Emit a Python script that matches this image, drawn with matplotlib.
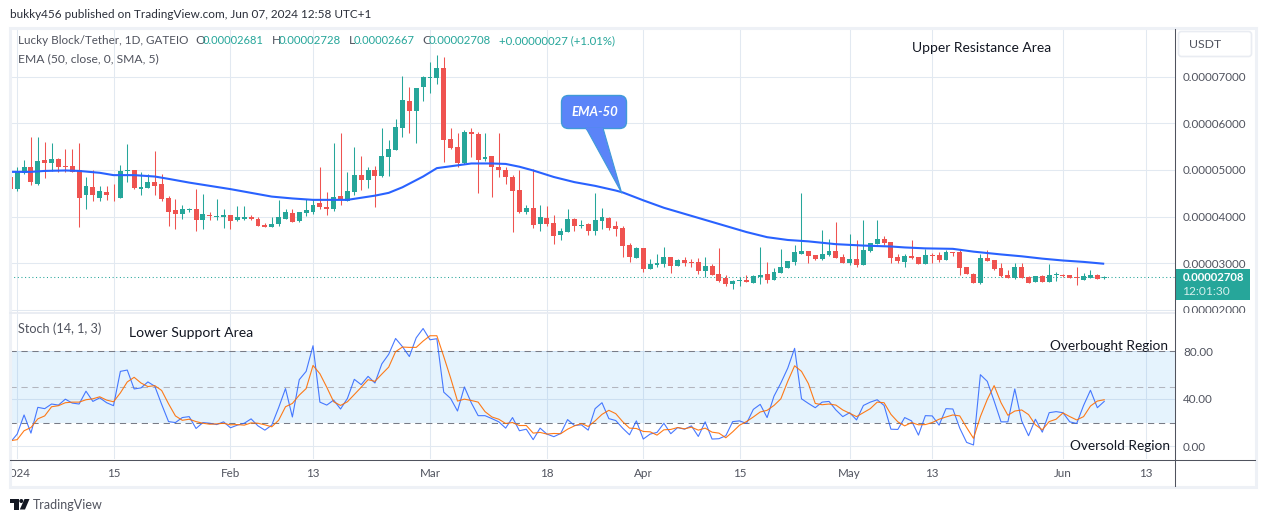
import numpy as np
import matplotlib
matplotlib.use("Agg")
import matplotlib.pyplot as plt
from matplotlib.patches import Rectangle, FancyBboxPatch, Polygon, Circle
from matplotlib.transforms import Bbox

# ---- data (prices in units of 0.00001 USDT; x = candle number, 0 = 31 Dec 2023)
opens = [4.85,4.59,4.93,5.06,4.71,5.21,5.14,5.23,5.08,5.08,4.99,4.46,4.63,4.41,4.52,4.41,4.41,4.97,4.99,4.59,
         4.61,4.74,4.69,4.39,4.14,4.05,4.14,4.16,3.92,4.03,3.99,3.99,4.03,3.92,3.96,3.99,3.96,3.83,3.77,3.84,
         3.96,4.07,3.90,4.07,4.11,4.29,4.21,4.17,4.45,4.34,4.53,4.90,4.79,5.01,4.88,5.27,5.42,5.89,6.47,6.26,
         6.77,6.97,6.97,7.18,5.67,5.50,5.14,5.82,5.78,5.24,5.29,5.07,5.01,4.86,4.58,4.10,4.19,3.85,3.98,3.87,
         3.61,3.67,3.95,3.80,3.85,3.70,3.91,3.98,3.80,3.76,3.39,3.11,3.33,2.88,2.96,2.99,3.14,2.94,3.07,3.03,
         3.03,2.84,2.94,2.77,2.68,2.56,2.62,2.64,2.58,2.71,2.77,2.64,2.79,2.90,3.03,3.20,3.27,3.18,3.09,3.18,
         3.27,3.14,3.01,3.09,2.96,3.27,3.42,3.52,3.46,3.14,3.03,3.15,3.14,2.99,3.18,3.18,3.07,3.24,3.24,2.92,
         2.77,2.58,3.11,3.07,2.90,2.75,2.68,2.92,2.71,2.60,2.73,2.60,2.75,2.75,2.75,2.71,2.64,2.68,2.75,2.681]
highs = [4.91,5.06,5.21,5.70,5.70,5.59,5.57,5.25,5.46,5.46,5.57,4.86,5.01,4.65,4.65,4.69,5.10,5.55,5.01,4.95,
         4.91,5.40,4.91,4.44,4.37,4.24,4.19,4.59,4.48,4.09,4.37,4.16,4.03,4.22,4.22,4.03,3.99,3.86,3.99,4.35,
         4.16,4.16,4.09,4.37,4.37,5.06,4.53,5.57,5.80,4.96,5.50,5.31,5.07,5.08,5.91,5.65,6.10,7.01,6.77,6.75,
         7.01,7.31,7.46,7.42,5.91,5.80,5.85,5.91,5.82,5.80,5.31,5.80,5.07,4.90,4.99,4.25,5.03,4.25,4.23,4.04,
         3.76,4.17,3.98,3.93,3.87,4.51,4.19,4.00,3.91,3.80,3.44,3.35,3.33,3.09,3.20,3.35,3.14,3.09,3.14,3.09,
         3.11,3.14,2.99,3.33,2.75,2.64,2.71,2.75,2.75,3.35,3.03,2.90,3.31,3.05,3.39,4.51,3.27,3.18,3.72,3.52,
         3.89,3.20,3.63,3.50,3.93,3.44,3.93,3.59,3.46,3.20,3.20,3.50,3.14,3.31,3.22,3.24,3.29,3.24,3.29,2.92,
         2.79,3.20,3.29,3.07,3.01,2.86,3.01,3.01,2.73,2.73,2.75,2.99,2.81,2.77,2.75,2.92,2.79,2.86,2.77,2.728]
lows = [4.56,4.56,4.91,4.67,4.67,4.82,4.97,4.95,4.95,4.95,3.77,4.16,4.33,4.33,4.35,4.33,4.39,4.74,4.59,4.46,
        4.61,4.46,4.33,3.81,3.73,3.94,4.11,3.69,3.73,3.92,3.92,3.75,3.73,3.90,3.92,3.92,3.81,3.77,3.77,3.81,
        3.96,3.88,3.88,4.01,4.05,4.16,4.04,4.13,4.25,4.34,4.47,4.58,4.62,4.21,4.86,4.88,5.42,5.70,5.80,5.57,
        6.47,6.64,6.84,5.18,5.44,5.07,5.12,5.27,4.51,5.20,4.43,4.86,4.71,3.67,4.08,4.06,3.76,3.70,3.80,3.42,
        3.50,3.67,3.70,3.76,3.61,3.61,3.74,3.72,3.59,3.14,3.03,3.11,2.81,2.88,2.92,2.92,2.79,2.94,2.94,2.92,
        2.77,2.71,2.75,2.60,2.51,2.45,2.51,2.60,2.58,2.56,2.58,2.64,2.79,2.90,2.96,3.20,3.01,3.07,3.07,3.16,
        3.11,3.01,2.96,2.92,2.96,3.24,3.42,3.39,3.01,3.01,2.92,3.09,2.99,2.99,3.01,3.03,3.07,3.16,2.75,2.77,
        2.58,2.56,3.05,2.86,2.71,2.68,2.66,2.68,2.58,2.60,2.60,2.60,2.62,2.71,2.68,2.53,2.64,2.68,2.66,2.667]
closes = [4.59,4.97,5.06,4.74,5.19,5.14,5.23,5.06,5.06,4.95,4.41,4.65,4.46,4.54,4.46,4.39,4.97,4.99,4.61,4.63,
          4.74,4.65,4.37,4.11,4.05,4.16,4.16,3.92,4.05,4.01,4.01,4.03,3.90,3.99,3.99,3.96,3.81,3.77,3.84,3.99,
          4.11,3.88,4.09,4.14,4.26,4.20,4.17,4.43,4.36,4.56,4.90,4.79,4.99,4.88,5.29,5.44,5.93,6.51,6.26,6.75,
          6.99,6.99,7.18,5.65,5.48,5.14,5.82,5.78,5.22,5.27,5.07,4.99,4.84,4.56,4.10,4.19,3.82,4.00,3.85,3.59,
          3.70,3.95,3.80,3.82,3.70,3.93,4.00,3.76,3.74,3.37,3.14,3.33,2.88,2.99,3.01,3.14,2.94,3.07,3.01,3.01,
          2.84,2.94,2.75,2.62,2.56,2.62,2.64,2.60,2.73,2.75,2.64,2.81,2.92,3.05,3.24,3.27,3.16,3.09,3.20,3.27,
          3.11,3.01,3.09,2.96,3.29,3.44,3.52,3.44,3.11,3.05,3.16,3.11,2.99,3.18,3.16,3.07,3.24,3.22,2.90,2.77,
          2.58,3.11,3.05,2.88,2.73,2.68,2.92,2.68,2.58,2.73,2.60,2.75,2.77,2.73,2.68,2.68,2.73,2.75,2.66,2.708]

ema_x = [0,3,5,8,10,13,15,18,21,23,26,29,32,35,38,41,44,49,53,55,57,60,62,64,67,70,72,74,76,79,82,85,88,89,92,95,98,
         101,104,107,110,113,116,120,124,128,130,133,137,140,144,147,150,153,156,159]
ema = [4.96,4.96,4.98,4.99,4.98,4.94,4.89,4.89,4.86,4.81,4.73,4.66,4.59,4.51,4.43,4.39,4.36,4.36,4.45,4.51,4.63,4.86,5.04,
       5.08,5.14,5.14,5.13,5.07,4.99,4.85,4.74,4.66,4.56,4.52,4.35,4.19,4.06,3.93,3.80,3.67,3.56,3.50,3.47,3.41,3.38,3.36,
       3.34,3.32,3.31,3.25,3.19,3.15,3.10,3.06,3.03,2.99]

stoch_k = [3.3,10.3,26.4,11.1,32.8,31.7,35.6,34.7,39.7,36.4,35.6,46.4,37.8,40.8,36.7,34.2,63.1,64.2,48.3,49.2,
           54.2,50.6,35.3,20.8,20.0,24.2,25.0,15.0,20.0,19.4,18.3,20.6,15.6,17.8,19.4,23.1,17.2,13.6,17.8,32.5,
           48.6,24.7,56.1,63.1,84.7,37.2,34.7,38.9,31.4,40.3,56.4,51.9,58.9,53.3,69.4,77.5,90.8,83.9,75.6,91.4,
           99.2,89.7,90.6,45.6,40.3,29.7,50.0,36.7,25.8,25.8,23.3,20.6,15.3,24.2,13.1,14.4,5.6,15.3,10.3,8.1,
           10.8,22.5,17.5,18.1,13.6,31.7,36.7,23.3,21.7,15.3,9.7,21.4,6.1,10.3,11.7,19.4,10.6,15.8,14.4,17.2,
           8.3,20.6,6.1,6.4,8.9,20.8,21.4,19.2,31.1,35.3,24.2,42.2,53.3,65.8,82.5,40.0,36.1,32.5,37.2,37.8,
           30.6,25.0,28.3,22.2,34.4,37.2,39.2,34.4,14.4,14.2,24.2,21.4,9.4,25.8,25.6,17.8,31.7,31.4,15.3,3.3,
           1.1,60.3,54.7,38.1,20.6,20.6,48.3,21.4,8.9,22.8,11.9,28.3,29.2,28.3,20.6,19.2,34.4,47.2,32.5,37.8]
stoch_d = [4.7,5.6,13.1,15.8,23.1,25.6,33.3,34.2,36.7,37.2,37.2,39.2,40.0,41.7,38.9,37.5,45.0,54.2,58.1,53.3,
           50.3,51.1,47.0,35.8,25.6,21.9,22.8,20.8,19.4,18.6,18.9,19.4,18.1,18.3,17.8,19.7,19.4,18.1,16.4,21.9,
           33.3,36.1,43.1,48.6,68.1,61.1,49.7,37.5,34.4,37.5,43.6,49.7,56.1,54.7,60.8,66.7,79.7,83.6,83.3,83.3,
           88.6,93.1,93.1,75.6,57.5,38.1,39.7,38.6,37.2,29.2,24.7,22.8,19.2,20.0,17.5,17.5,11.1,11.7,10.3,10.8,
           10.6,14.4,17.2,19.2,16.7,21.4,26.9,30.3,27.5,20.8,15.3,15.0,12.5,12.2,9.4,13.9,14.2,15.8,14.7,16.1,
           13.6,15.3,11.9,11.1,7.2,12.2,17.8,20.8,24.7,28.9,30.3,34.4,40.0,54.7,67.8,63.1,52.8,36.1,35.0,35.6,
           34.7,30.6,27.8,25.0,28.3,31.7,37.2,36.7,26.9,20.6,17.2,20.0,18.1,18.3,20.0,22.8,24.7,26.4,25.6,15.8,
           6.7,25.0,39.4,51.1,36.7,26.1,29.7,30.6,26.7,18.1,13.9,20.8,22.8,28.1,25.0,22.2,25.0,33.9,38.1,39.2]

time_ticks = [1,15,32,44,61,78,92,106,122,134,153,165]
time_labels = ['2024','15','Feb','13','Mar','18','Apr','15','May','13','Jun','13']
price_ticks = [2,3,4,5,6,7]
stoch_ticks = [0,40,80]
last_price = 2.708
UNIT = 1e-5

# ---- styling
W, H = 1265, 522
UP, DOWN = '#26a69a', '#ef5350'
GRID = '#e2e9f1'
DARK = '#131722'
GREY = '#50535e'
plt.rcParams['font.family'] = ['Lato', 'DejaVu Sans']

fig = plt.figure(figsize=(W/100, H/100), dpi=100, facecolor='white')

def pane(top, bottom, left=10, right=1175):
    return fig.add_axes([left/W, 1-bottom/H, (right-left)/W, (bottom-top)/H])

# x: candle i sits at pixel 10.3 + 6.88 i
xlim = ((10-10.3)/6.88, (1175-10.3)/6.88)

# ---- price pane
ax = pane(30, 313)
ax.set_xlim(*xlim)
ax.set_ylim((3-(313-263.3)/46.65)*UNIT, (3+(263.3-30)/46.65)*UNIT)
idx = np.arange(len(opens))
o, h, l, c = [np.array(a)*UNIT for a in (opens, highs, lows, closes)]
cols = [UP if cc >= oo else DOWN for oo, cc in zip(o, c)]
ax.vlines(idx, l, h, colors=cols, linewidth=0.75, zorder=3)
ax.bar(idx, np.abs(c-o), bottom=np.minimum(o, c), width=0.72, color=cols, linewidth=0, zorder=4)
ax.plot(ema_x, np.array(ema)*UNIT, color='#2962ff', linewidth=1.5, zorder=5, solid_capstyle='butt')
ax.axhline(last_price*UNIT, color=UP, linewidth=0.75, linestyle=(0, (1, 2.5)), zorder=2)
ax.set_xticks(time_ticks)
ax.set_yticks([v*UNIT for v in price_ticks])
ax.set_yticklabels([f'{v*UNIT:.8f}' for v in price_ticks])
ax.tick_params(axis='x', length=0, labelbottom=False)

# ---- stochastic pane
ax2 = pane(314, 459)
ax2.set_xlim(*xlim)
ax2.set_ylim((446.3-459)/1.1875, (446.3-314)/1.1875)
ax2.axhspan(20, 80, color='#2196f3', alpha=0.115, linewidth=0, zorder=2)
ax2.axhline(80, color='#787b86', linewidth=0.75, linestyle=(0, (6, 4.5)), zorder=3)
ax2.axhline(50, color='#b2b5be', linewidth=0.75, linestyle=(0, (6, 4.5)), zorder=3)
ax2.axhline(20, color='#787b86', linewidth=0.75, linestyle=(0, (6, 4.5)), zorder=3)
ax2.plot(idx, stoch_k, color='#2962ff', linewidth=0.8, alpha=0.85, zorder=4)
ax2.plot(idx, stoch_d, color='#ff6d00', linewidth=0.8, alpha=0.9, zorder=5)
ax2.set_xticks(time_ticks)
ax2.set_xticklabels(time_labels)
ax2.set_yticks(stoch_ticks)
ax2.set_yticklabels([f'{v:.2f}' for v in stoch_ticks])

for a in (ax, ax2):
    a.grid(True, color=GRID, linewidth=0.75)
    a.set_axisbelow(True)
    a.yaxis.tick_right()
    for s in a.spines.values():
        s.set_visible(False)
    a.tick_params(axis='y', length=0, pad=5.8, labelsize=8.4, labelcolor=GREY)
ax2.tick_params(axis='x', length=0, pad=6.5, labelsize=8.4, labelcolor=GREY)

# clip partial labels like the chart does
ax2.get_xticklabels()[0].set_clip_on(True)
ax2.get_xticklabels()[0].set_clip_box(Bbox([[10, 0], [1175, H]]))
ax.get_yticklabels()[0].set_clip_on(True)
ax.get_yticklabels()[0].set_clip_box(Bbox([[1176, H-313], [W, H]]))

# ---- overlay in pixel coordinates
ov = fig.add_axes([0, 0, 1, 1], zorder=10)
ov.set_xlim(0, W); ov.set_ylim(H, 0); ov.axis('off'); ov.patch.set_alpha(0)

# frame, separators, axis lines
ov.add_patch(Rectangle((9.5, 27.5), 1246, 459, fill=False, edgecolor='#eef1f6', linewidth=2.2))
ov.plot([10, 1175], [313, 313], color='#e6eaf1', lw=1.2)
ov.plot([1175, 1175], [29, 486], color=GREY, lw=0.75)
ov.plot([10, 1255], [459.5, 459.5], color=GREY, lw=0.75)

renderer = fig.canvas.get_renderer()
def fit(s, x0, x1, y, color=DARK, fs=9, **kw):
    t = ov.text(x0, y, s, color=color, fontsize=fs, va='center', ha='left', **kw)
    w = t.get_window_extent(renderer).width
    t.set_fontsize(fs*(x1-x0)/w)
    return t

# header and legend
fit('bukky456 published on TradingView.com, Jun 07, 2024 12:58 UTC+1', 10, 372, 15, color='#2a2e39')
fit('Lucky Block/Tether, 1D, GATEIO', 18, 188, 41, color=GREY)
fit('EMA (50, close, 0, SMA, 5)', 18, 158, 59, color=GREY)
for s, a0, val, b0, b1 in [('O', 195.5, '0.00002681', 203, 264),
                           ('H', 271.5, '0.00002728', 279, 341),
                           ('L', 348.5, '0.00002667', 354, 415),
                           ('C', 422.5, '0.00002708', 429, 491)]:
    ov.text(a0, 41, s, color=GREY, fontsize=8.8, va='center', ha='left')
    fit(val, b0, b1, 41, color=UP)
fit('+0.00000027 (+1.01%)', 499, 615, 41, color=UP)

# annotations
fit('Upper Resistance Area', 912, 1052, 48)
fit('Lower Support Area', 129, 253, 333)
fit('Stoch (14, 1, 3)', 18, 101, 329, color=GREY)
fit('Overbought Region', 1050, 1168, 346)
fit('Oversold Region', 1070, 1170, 446)

# EMA-50 callout
BLUE = '#5b84f8'
ov.add_patch(FancyBboxPatch((561.5, 95.5), 65, 33, boxstyle='round,pad=0,rounding_size=7',
                            fc=BLUE, ec='#3f9ad8', lw=1))
ov.add_patch(Polygon([(586, 128), (603, 128), (621.7, 193)], closed=True, fc=BLUE, ec='none'))
ov.plot([586, 621.7, 603], [128, 193, 128], color='#3f9ad8', lw=0.8)
ov.plot([587, 602], [128.5, 128.5], color=BLUE, lw=1.6)
fit('EMA-50', 571, 618, 112, color='white', fontstyle='italic', fontweight='bold')

# scale button
ov.add_patch(FancyBboxPatch((1178.5, 31.5), 73, 25, boxstyle='round,pad=0,rounding_size=3',
                            fc='white', ec='#e9ecf2', lw=1.2))
ov.text(1189, 44, 'USDT', color=GREY, fontsize=8.8, va='center', ha='left')

# last price tag
ov.add_patch(Rectangle((1175, 269), 75, 31, fc=UP, ec='none'))
fit(f'{last_price*UNIT:.8f}', 1183, 1245, 277.5, color='white', fontweight='bold')
fit('12:01:30', 1183, 1231, 291.5, color='#d5efec')

# footer logo
ov.add_patch(Rectangle((10, 499), 8.5, 4, fc=DARK, ec='none'))
ov.add_patch(Rectangle((14, 503), 4.5, 6.5, fc=DARK, ec='none'))
ov.add_patch(Circle((21.3, 501), 2.0, fc=DARK, ec='none'))
ov.add_patch(Polygon([(24.5, 499), (29.5, 499), (25, 509.5), (19.8, 509.5)], closed=True, fc=DARK, ec='none'))
fit('TradingView', 33, 103, 505, color=GREY)

fig.savefig('out.png', dpi=100)
